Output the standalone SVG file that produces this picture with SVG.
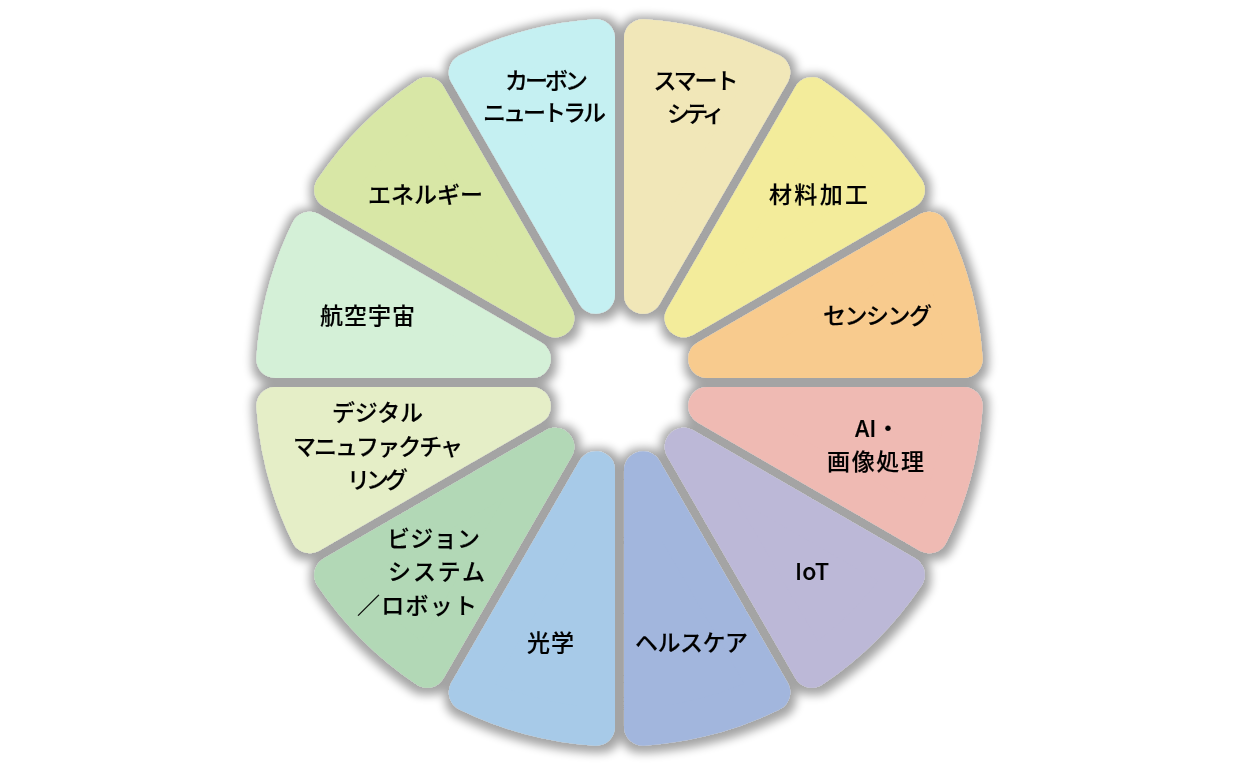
<svg xmlns="http://www.w3.org/2000/svg" xmlns:xlink="http://www.w3.org/1999/xlink" width="1240" height="764" viewBox="0 0 1240 764">
<style>
.w{stroke-width:38;stroke-linejoin:round}
.t{font-family:"Noto Sans CJK JP","Noto Sans",sans-serif;font-size:23px;font-weight:500;fill:#000;stroke:#000;stroke-width:0.15px;text-anchor:middle}
.c0{fill:#f1e7b8;stroke:#f1e7b8}
.c1{fill:#f3ec9b;stroke:#f3ec9b}
.c2{fill:#f8cb8e;stroke:#f8cb8e}
.c3{fill:#efbab3;stroke:#efbab3}
.c4{fill:#bcb8d7;stroke:#bcb8d7}
.c5{fill:#a2b6dd;stroke:#a2b6dd}
.c6{fill:#a7cae8;stroke:#a7cae8}
.c7{fill:#b2d8b6;stroke:#b2d8b6}
.c8{fill:#e5eec7;stroke:#e5eec7}
.c9{fill:#d4f0d7;stroke:#d4f0d7}
.c10{fill:#d8e7a6;stroke:#d8e7a6}
.c11{fill:#c5f0f2;stroke:#c5f0f2}
</style>
<defs>
<path id="w" d="M23.5,-87.703 L23.5,-344.199 A345,345 0 0 1 151.748,-309.835 Z"/>
<filter id="sh" x="-10%" y="-10%" width="120%" height="120%">
<feMorphology in="SourceAlpha" operator="dilate" radius="5"/>
<feGaussianBlur stdDeviation="5"/>
<feOffset dx="1" dy="2"/>
<feComponentTransfer><feFuncA type="linear" slope="0.36"/></feComponentTransfer>
<feMerge><feMergeNode/><feMergeNode in="SourceGraphic"/></feMerge>
</filter>
</defs>
<rect width="1240" height="764" fill="#fff"/>
<g id="connectors"/>
<g id="wheel" filter="url(#sh)">
<g id="smart-city"><use xlink:href="#w" class="w c0" transform="translate(619.5 382.5) rotate(0)"/>
<text class="t" x="696" y="89" textLength="85" lengthAdjust="spacing">スマート</text>
<text class="t" x="696" y="121.5" textLength="58" lengthAdjust="spacing">シティ</text></g>
<g id="material"><use xlink:href="#w" class="w c1" transform="translate(619.5 382.5) rotate(30)"/>
<text class="t" x="818.5" y="203" textLength="99" lengthAdjust="spacing">材料加工</text></g>
<g id="sensing"><use xlink:href="#w" class="w c2" transform="translate(619.5 382.5) rotate(60)"/>
<text class="t" x="877.5" y="324" textLength="109" lengthAdjust="spacing">センシング</text></g>
<g id="ai"><use xlink:href="#w" class="w c3" transform="translate(619.5 382.5) rotate(90)"/>
<text class="t" x="855" y="437" style="text-anchor:start">AI・</text>
<text class="t" x="875.5" y="470" textLength="97" lengthAdjust="spacing">画像処理</text></g>
<g id="iot"><use xlink:href="#w" class="w c4" transform="translate(619.5 382.5) rotate(120)"/>
<text class="t" x="812" y="580" textLength="34" lengthAdjust="spacing">IoT</text></g>
<g id="healthcare"><use xlink:href="#w" class="w c5" transform="translate(619.5 382.5) rotate(150)"/>
<text class="t" x="691.5" y="651" textLength="113" lengthAdjust="spacing">ヘルスケア</text></g>
<g id="optics"><use xlink:href="#w" class="w c6" transform="translate(619.5 382.5) rotate(180)"/>
<text class="t" x="550.5" y="651" textLength="47" lengthAdjust="spacing">光学</text></g>
<g id="vision"><use xlink:href="#w" class="w c7" transform="translate(619.5 382.5) rotate(210)"/>
<text class="t" x="433.5" y="547" textLength="93" lengthAdjust="spacing">ビジョン</text>
<text class="t" x="436.5" y="580" textLength="97" lengthAdjust="spacing">システム</text>
<text class="t" x="417" y="614" textLength="120" lengthAdjust="spacing">／ロボット</text></g>
<g id="digital"><use xlink:href="#w" class="w c8" transform="translate(619.5 382.5) rotate(240)"/>
<text class="t" x="377.5" y="421" textLength="91" lengthAdjust="spacing">デジタル</text>
<text class="t" x="378" y="455" textLength="170" lengthAdjust="spacing">マニュファクチャ</text>
<text class="t" x="377.5" y="488" textLength="61" lengthAdjust="spacing">リング</text></g>
<g id="aerospace"><use xlink:href="#w" class="w c9" transform="translate(619.5 382.5) rotate(270)"/>
<text class="t" x="367.5" y="324" textLength="95" lengthAdjust="spacing">航空宇宙</text></g>
<g id="energy"><use xlink:href="#w" class="w c10" transform="translate(619.5 382.5) rotate(300)"/>
<text class="t" x="425.5" y="203" textLength="115" lengthAdjust="spacing">エネルギー</text></g>
<g id="carbon"><use xlink:href="#w" class="w c11" transform="translate(619.5 382.5) rotate(330)"/>
<text class="t" x="546.5" y="89" textLength="83" lengthAdjust="spacing">カーボン</text>
<text class="t" x="544.5" y="121" textLength="123" lengthAdjust="spacing">ニュートラル</text></g>
</g>
</svg>
